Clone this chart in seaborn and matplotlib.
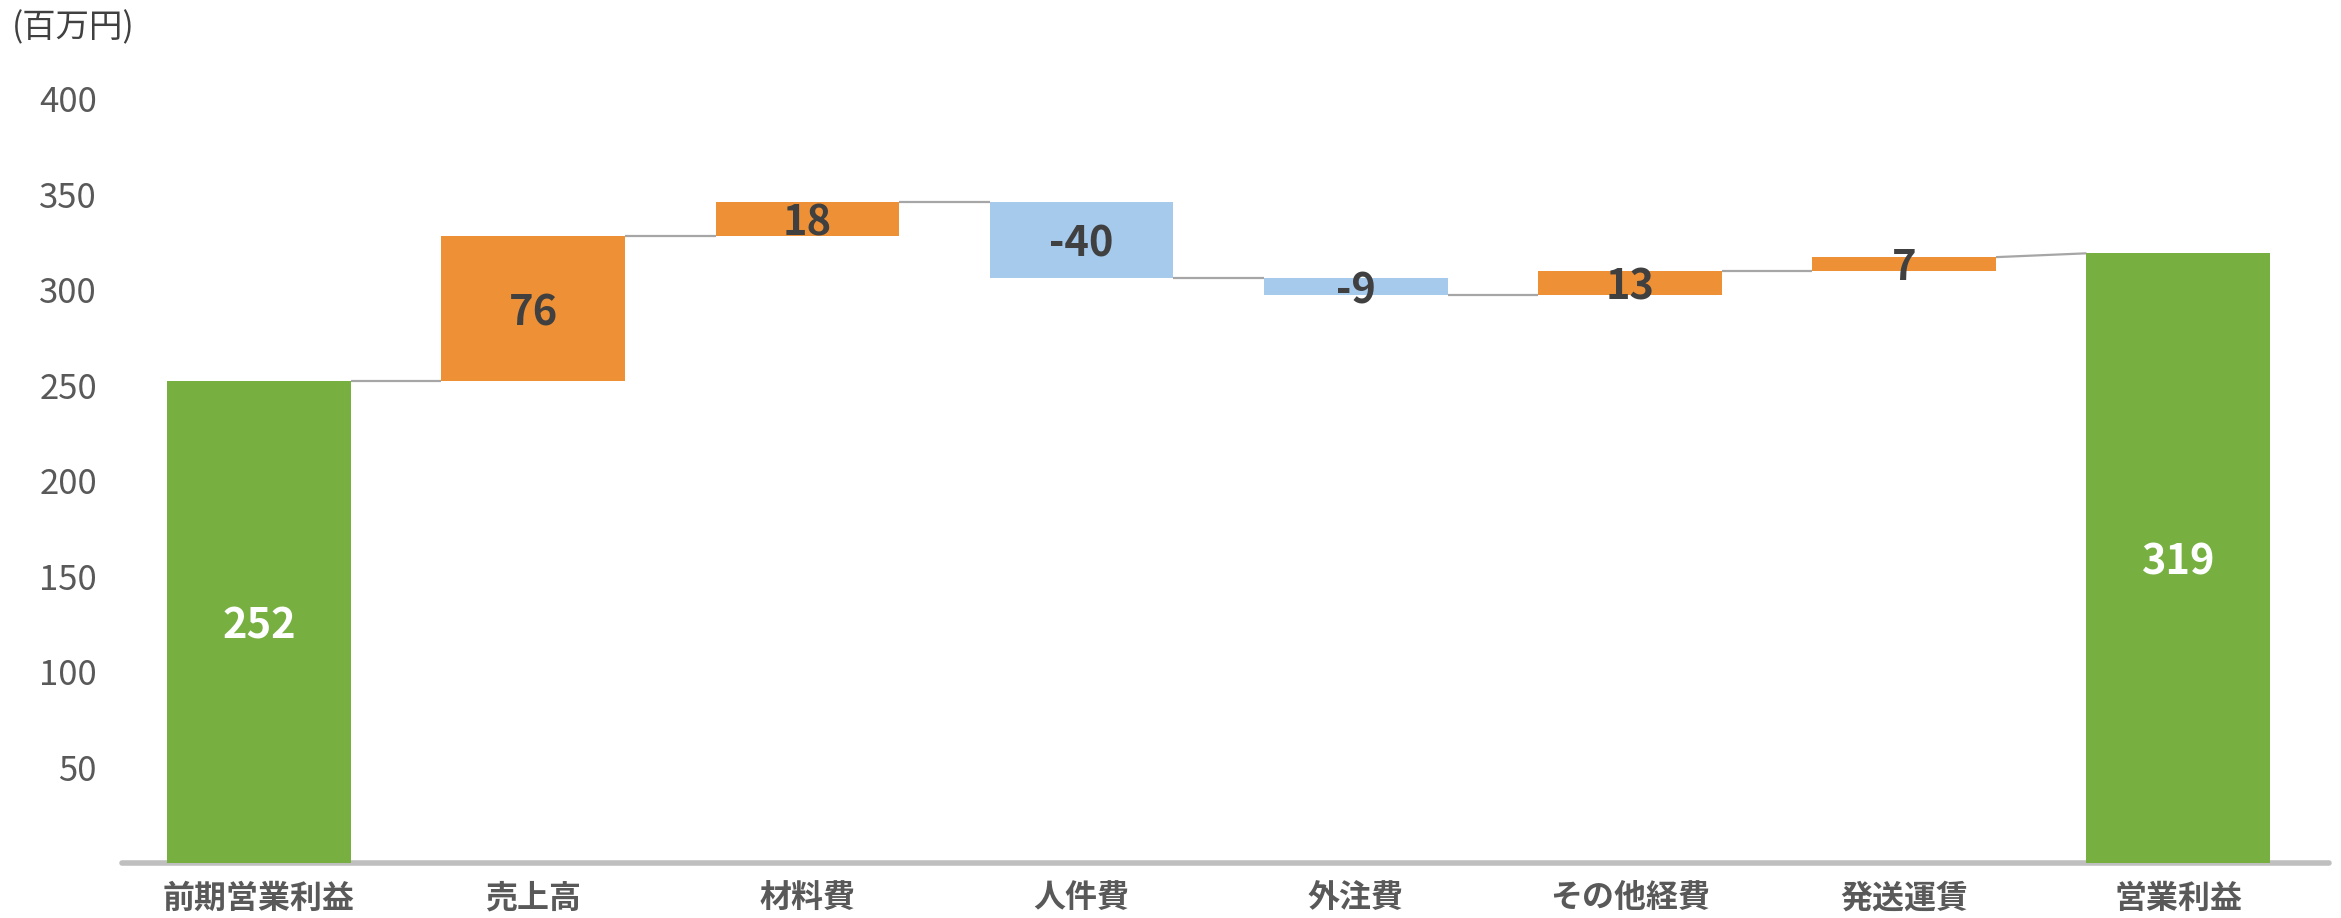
import numpy as np
import pandas as pd
import matplotlib
matplotlib.use("Agg")
import matplotlib.pyplot as plt
import seaborn as sns

# ---- data ----
categories = ["前期営業利益", "売上高", "材料費", "人件費", "外注費", "その他経費", "発送運賃", "営業利益"]
values = [252, 76, 18, -40, -9, 13, 7, 319]
kinds = ["total", "delta", "delta", "delta", "delta", "delta", "delta", "total"]
yticks = [50, 100, 150, 200, 250, 300, 350, 400]
unit_label = "(百万円)"

# ---- derived waterfall geometry ----
bottoms, heights, starts, ends = [], [], [], []
level = 0
for v, k in zip(values, kinds):
    if k == "total":
        bottoms.append(0); heights.append(v)
        starts.append(v); ends.append(v)
        level = v
    else:
        bottoms.append(level); heights.append(v)
        starts.append(level); ends.append(level + v)
        level = level + v

GREEN = "#77B041"
ORANGE = "#EE9136"
BLUE = "#A6CAEC"
colors = [GREEN if k == "total" else (ORANGE if v >= 0 else BLUE) for v, k in zip(values, kinds)]

sns.set_theme(style="white")
plt.rcParams["font.family"] = ["Noto Sans CJK JP", "DejaVu Sans"]

fig = plt.figure(figsize=(23.41, 9.18), dpi=100)
ax = fig.add_axes([0.0521, 0.0599, 0.9428, 0.8328])

df = pd.DataFrame({"cat": categories, "h": heights})
sns.barplot(data=df, x="cat", y="h", order=categories, bottom=np.array(bottoms, dtype=float),
            width=0.67, color=GREEN, ax=ax, zorder=3, linewidth=0, errorbar=None)
for p, c in zip(ax.patches, colors):
    p.set_facecolor(c)
    p.set_edgecolor("none")
    p.set_clip_on(False)

# connectors
bw = 0.67
for i in range(len(values) - 1):
    ax.plot([i + bw / 2, i + 1 - bw / 2], [ends[i], starts[i + 1]],
            color="#A6A6A6", lw=1.6, zorder=2, solid_capstyle="butt")

# value labels
for i, (v, k) in enumerate(zip(values, kinds)):
    y = bottoms[i] + heights[i] / 2
    ax.text(i, y, str(v), ha="center", va="center_baseline", fontsize=30, fontweight="bold",
            color="white" if k == "total" else "#404040", zorder=4)

ax.set_ylim(0, 400)
ax.set_xlim(-0.5, 7.55)
ax.set_yticks(yticks)
ax.set_yticklabels([str(t) for t in yticks])
ax.set_xlabel("")
ax.set_ylabel("")
for s in ["top", "right", "left", "bottom"]:
    ax.spines[s].set_visible(False)
ax.axhline(0, color="#BFBFBF", lw=4.0, zorder=1, solid_capstyle="round", clip_on=False)
ax.tick_params(axis="y", length=0, pad=18, labelsize=25, labelcolor="#595959")
ax.tick_params(axis="x", length=0, pad=14, labelsize=23, labelcolor="#595959")
for lbl in ax.get_xticklabels():
    lbl.set_fontweight("bold")
ax.grid(False)

fig.text(12 / 2341, 1 - 28 / 918, unit_label, ha="left", va="center", fontsize=24, color="#404040")

fig.savefig("out.png", dpi=100)
